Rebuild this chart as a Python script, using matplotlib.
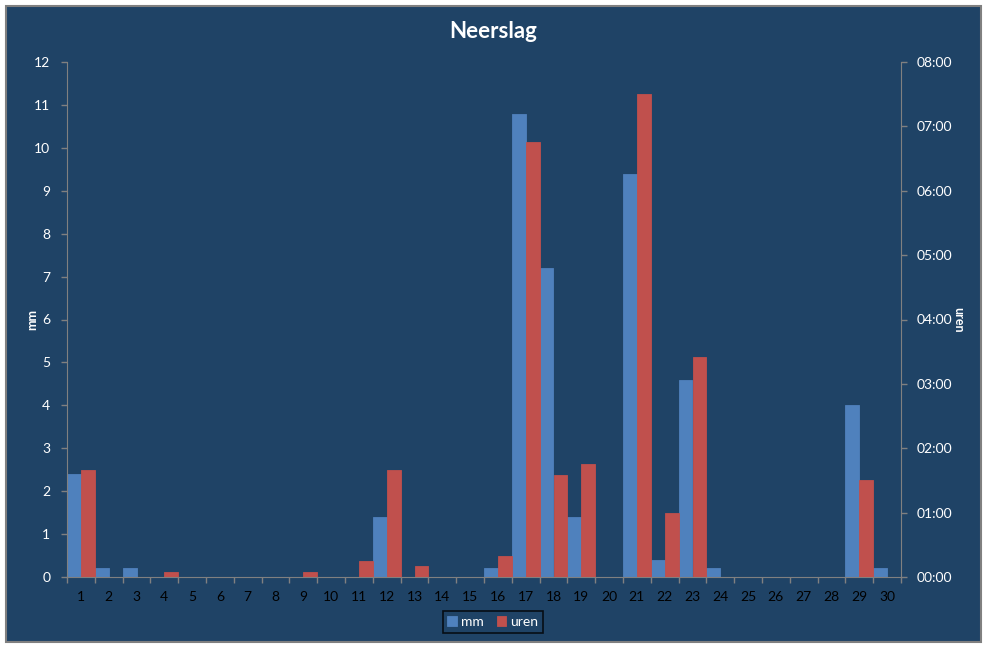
import matplotlib.pyplot as plt
import numpy as np
from matplotlib.patches import Rectangle
from matplotlib.ticker import FixedLocator, FuncFormatter

# day of month, rain in mm, rain duration in hours
days = list(range(1, 31))
mm = [2.4, 0.2, 0.2, 0, 0, 0, 0, 0, 0, 0,
      0, 1.4, 0, 0, 0, 0.2, 10.8, 7.2, 1.4, 0,
      9.4, 0.4, 4.6, 0.2, 0, 0, 0, 0, 4.0, 0.2]
uren = [1.667, 0, 0, 0.083, 0, 0, 0, 0, 0.083, 0,
        0.25, 1.667, 0.167, 0, 0, 0.333, 6.75, 1.583, 1.75, 0,
        7.5, 1.0, 3.417, 0, 0, 0, 0, 0, 1.5, 0]

BG = '#1f4366'
BLUE = '#4f81bd'
RED = '#c0504d'
GREY = '#808080'
plt.rcParams['font.family'] = ['Lato', 'DejaVu Sans']

W, H = 987, 648
fig = plt.figure(figsize=(W / 100, H / 100), dpi=100, facecolor='white')
fig.patches.append(Rectangle((6 / W, 6 / H), 975 / W, 636 / H, transform=fig.transFigure,
                             facecolor=BG, edgecolor=GREY, lw=1.5, zorder=-1))
ax = fig.add_axes([67 / W, 1 - 577 / H, 834 / W, 515 / H])
ax.set_facecolor(BG)
ax2 = ax.twinx()

x = np.array(days)
w = 0.5
# thin edge in the same colour closes the pixel seams between neighbouring bars
b1 = ax.bar(x - w / 2, mm, width=w, color=BLUE, edgecolor=BLUE, lw=0.6, label='mm')
b2 = ax2.bar(x + w / 2, uren, width=w, color=RED, edgecolor=RED, lw=0.6, label='uren')

ax.set_xlim(0.5, 30.5)
ax.set_ylim(0, 12)
ax2.set_ylim(0, 8)
ax.set_yticks(range(0, 13))
ax2.set_yticks(range(0, 9))
ax2.yaxis.set_major_formatter(FuncFormatter(lambda v, p: '%02d:00' % v))

# ticks on category edges, labels in the middle
ax.xaxis.set_major_locator(FixedLocator(np.arange(0.5, 31, 1)))
ax.xaxis.set_major_formatter(FuncFormatter(lambda v, p: ''))
ax.set_xticks(x, [str(d) for d in days], minor=True)

for a in (ax, ax2):
    for s in a.spines.values():
        s.set_visible(False)
    a.tick_params(colors=GREY, labelcolor='white', labelsize=10, length=4, width=1)
ax.spines['left'].set_visible(True)
ax.spines['left'].set_color(GREY)
ax.spines['bottom'].set_visible(True)
ax.spines['bottom'].set_color(GREY)
ax2.spines['right'].set_visible(True)
ax2.spines['right'].set_color(GREY)
ax.tick_params(axis='x', which='minor', length=0, pad=10)
ax.tick_params(axis='y', pad=8)
ax2.tick_params(axis='y', pad=7)

# axis titles
fig.text(32 / W, 1 - 320 / H, 'mm', color='white', fontweight='bold', fontsize=9,
         rotation=90, ha='center', va='center')
fig.text(958 / W, 1 - 320 / H, 'uren', color='white', fontweight='bold', fontsize=9,
         rotation=-90, ha='center', va='center')

fig.text(493 / W, 1 - 32 / H, 'Neerslag', color='white', fontsize=16,
         fontweight='bold', ha='center', va='center')

leg = fig.legend(handles=[b1, b2], labels=['mm', 'uren'], loc='center',
                 bbox_to_anchor=(493 / W, 1 - 622 / H), ncol=2, fontsize=10,
                 frameon=True, fancybox=False, handlelength=0.7, handleheight=0.7,
                 handletextpad=0.3, columnspacing=0.9, borderpad=0.35)
leg.get_frame().set_facecolor(BG)
leg.get_frame().set_edgecolor('black')
leg.get_frame().set_linewidth(1.2)
for t in leg.get_texts():
    t.set_color('white')

fig.savefig('out.png', dpi=100, facecolor='white')
